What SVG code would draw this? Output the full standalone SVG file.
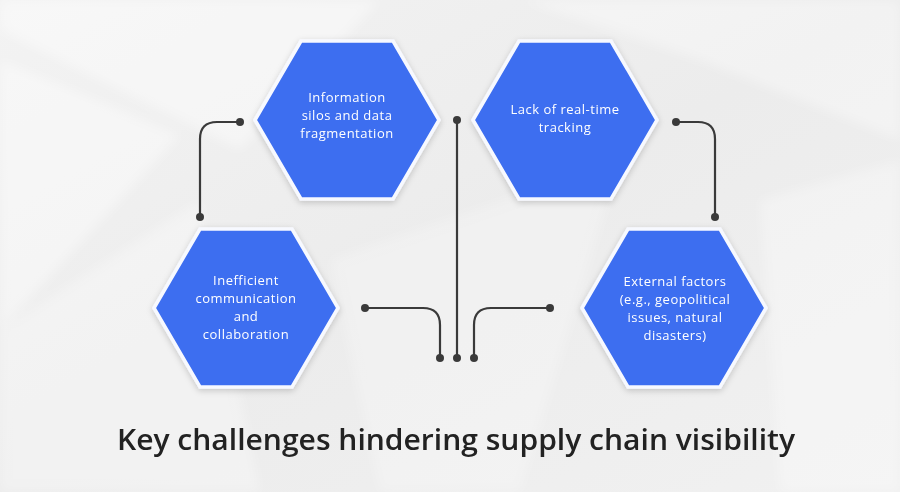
<svg xmlns="http://www.w3.org/2000/svg" width="900" height="492" viewBox="0 0 900 492">
<defs>
<linearGradient id="bg" x1="0" y1="0" x2="1" y2="1">
<stop offset="0" stop-color="#f3f3f3"/>
<stop offset="0.5" stop-color="#ececec"/>
<stop offset="1" stop-color="#f1f1f1"/>
</linearGradient>
<filter id="sh" x="-20%" y="-20%" width="140%" height="140%">
<feDropShadow dx="0" dy="2" stdDeviation="3" flood-color="#000" flood-opacity="0.18"/>
</filter>
<filter id="blur" x="-10%" y="-10%" width="120%" height="120%">
<feGaussianBlur stdDeviation="6"/>
</filter>
<style>
.hex{fill:#3d6ef0;stroke:#f7f9ff;stroke-width:3.5;filter:url(#sh)}
.lbl{font-family:"Open Sans","Noto Sans",sans-serif;font-size:13px;letter-spacing:0.5px;fill:#ffffff;text-anchor:middle}
.ln{fill:none;stroke:#3a3a3a;stroke-width:2.2;stroke-linecap:round}
.dot{fill:#3a3a3a}
.title{font-family:"Open Sans","Noto Sans",sans-serif;font-weight:600;font-size:28px;fill:#222222;text-anchor:middle}
.st{fill:#ffffff}
</style>
</defs>
<rect width="900" height="492" fill="url(#bg)"/>
<g filter="url(#blur)">
<polygon class="st" points="0,0 380,0 240,150 0,30" opacity="0.4"/>
<polygon class="st" points="0,60 180,135 0,330" opacity="0.4"/>
<polygon class="st" points="0,330 200,200 260,492 0,492" opacity="0.3"/>
<polygon class="st" points="520,0 900,0 900,140 700,60" opacity="0.35"/>
<polygon class="st" points="330,260 620,160 520,492 380,492" opacity="0.25"/>
<polygon class="st" points="760,200 900,160 900,492 780,492" opacity="0.3"/>
</g>

<g id="connectors">
<path class="ln" d="M240,122 H217 Q200,122 200,139 V217"/>
<circle class="dot" cx="240" cy="122" r="4"/>
<circle class="dot" cx="200" cy="217" r="4"/>
<path class="ln" d="M676,122 H698 Q715,122 715,139 V217"/>
<circle class="dot" cx="676" cy="122" r="4"/>
<circle class="dot" cx="715" cy="217" r="4"/>
<path class="ln" d="M457,120 V358"/>
<circle class="dot" cx="457" cy="120" r="4"/>
<circle class="dot" cx="457" cy="358" r="4"/>
<path class="ln" d="M365,308 H423 Q440,308 440,325 V358"/>
<circle class="dot" cx="365" cy="308" r="4"/>
<circle class="dot" cx="440" cy="358" r="4"/>
<path class="ln" d="M550,308 H491 Q474,308 474,325 V358"/>
<circle class="dot" cx="550" cy="308" r="4"/>
<circle class="dot" cx="474" cy="358" r="4"/>
</g>

<g id="node-info-silos">
<polygon class="hex" points="255,120 301,41 393,41 439,120 393,199 301,199"/>
<text class="lbl"><tspan x="347" y="102">Information</tspan><tspan x="347" y="120">silos and data</tspan><tspan x="347" y="138">fragmentation</tspan></text>
</g>
<g id="node-real-time">
<polygon class="hex" points="473,120 519,41 611,41 657,120 611,199 519,199"/>
<text class="lbl"><tspan x="565" y="114">Lack of real-time</tspan><tspan x="565" y="132">tracking</tspan></text>
</g>
<g id="node-communication">
<polygon class="hex" points="154,308 200,229 292,229 338,308 292,387 200,387"/>
<text class="lbl"><tspan x="246" y="285">Inefficient</tspan><tspan x="246" y="303">communication</tspan><tspan x="246" y="321">and</tspan><tspan x="246" y="339">collaboration</tspan></text>
</g>
<g id="node-external">
<polygon class="hex" points="582,308 628,229 720,229 766,308 720,387 628,387"/>
<text class="lbl"><tspan x="675" y="286">External factors</tspan><tspan x="675" y="304">(e.g., geopolitical</tspan><tspan x="675" y="322">issues, natural</tspan><tspan x="675" y="340">disasters)</tspan></text>
</g>

<text class="title" x="456" y="450" textLength="678" lengthAdjust="spacingAndGlyphs">Key challenges hindering supply chain visibility</text>
</svg>
